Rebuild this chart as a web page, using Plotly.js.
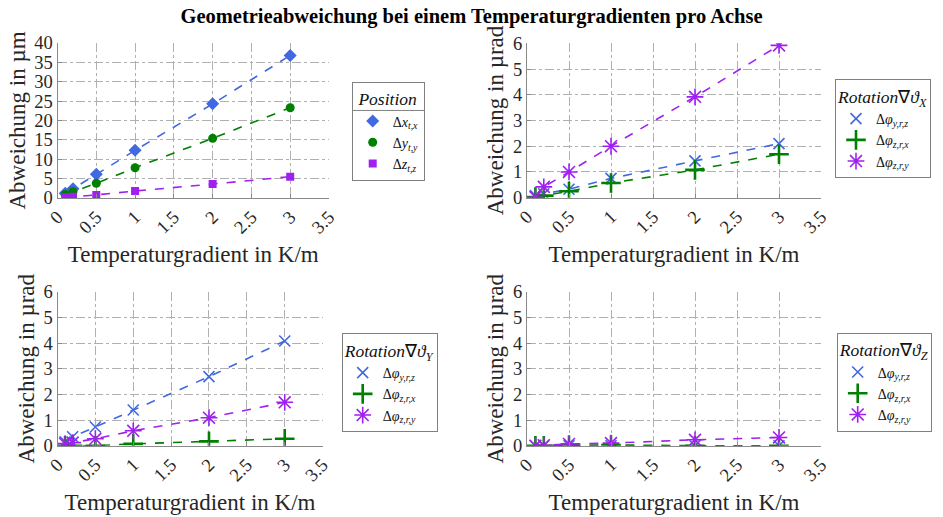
<!DOCTYPE html>
<html>
<head>
<meta charset="utf-8">
<script src="https://cdn.plot.ly/plotly-3.0.1.min.js"></script>
<style>html,body{margin:0;padding:0;background:#fff;}#chart{width:943px;height:517px;}</style>
</head>
<body>
<div id="chart"></div>
<script>
// ---- data ----
const gradient = [0.1, 0.2, 0.5, 1, 2, 3];
const xTickVals = [0, 0.5, 1, 1.5, 2, 2.5, 3, 3.5];
const xTickText = ['0', '0.5', '1', '1.5', '2', '2.5', '3', '3.5'];

// Position (µm)
const pos_dx = [1.2, 2.4, 6.1, 12.3, 24.3, 36.8];
const pos_dy = [0.9, 1.6, 3.8, 7.8, 15.4, 23.3];
const pos_dz = [0.2, 0.3, 0.8, 1.8, 3.6, 5.5];

// Rotation grad X (µrad)
const rx_yrz = [0.08, 0.15, 0.33, 0.75, 1.43, 2.1];
const rx_zrx = [0.03, 0.08, 0.25, 0.57, 1.08, 1.69];
const rx_zry = [0.02, 0.42, 1.0, 2.0, 3.92, 5.92];

// Rotation grad Y (µrad)
const ry_yrz = [0.15, 0.35, 0.73, 1.39, 2.69, 4.08];
const ry_zrx = [0.0, 0.0, 0.0, 0.07, 0.17, 0.27];
const ry_zry = [0.08, 0.12, 0.27, 0.58, 1.09, 1.69];

// Rotation grad Z (µrad)
const rz_yrz = [0.0, 0.0, 0.0, 0.0, 0.0, 0.0];
const rz_zrx = [0.0, 0.0, 0.02, 0.03, 0.0, 0.0];
const rz_zry = [0.0, 0.02, 0.07, 0.1, 0.23, 0.32];

const legendNamesPos = ['Δ<i>x</i><sub><i>t,x</i></sub>', 'Δ<i>y</i><sub><i>t,y</i></sub>', 'Δ<i>z</i><sub><i>t,z</i></sub>'];
const legendNamesRot = ['Δ<i>φ</i><sub><i>y,r,z</i></sub>', 'Δ<i>φ</i><sub><i>z,r,x</i></sub>', 'Δ<i>φ</i><sub><i>z,r,y</i></sub>'];

// ---- styling ----
const W = 943, H = 517;
const px = v => v / W;
const py = v => 1 - v / H;
const FONT = 'Liberation Serif, Times New Roman, serif';
const BLUE = '#4169e1', GREEN = '#008000', PURPLE = '#a020f0';

function series(x, y, color, symbol, size, lw, name, xa, ya, leg) {
  return [
    {x: x, y: y, xaxis: xa, yaxis: ya, mode: 'lines', type: 'scatter',
     line: {color: color, dash: 'dash', width: 1.6}, showlegend: false, hoverinfo: 'skip'},
    {x: x, y: y, xaxis: xa, yaxis: ya, mode: 'markers', type: 'scatter', name: name,
     legend: leg,
     marker: {color: color, symbol: symbol, size: size, line: {color: color, width: lw}}}
  ];
}

let traces = [];
traces = traces.concat(
  series(gradient, pos_dx, BLUE, 'diamond', 10, 0, legendNamesPos[0], 'x', 'y', 'legend'),
  series(gradient, pos_dy, GREEN, 'circle', 9, 0, legendNamesPos[1], 'x', 'y', 'legend'),
  series(gradient, pos_dz, PURPLE, 'square', 8, 0, legendNamesPos[2], 'x', 'y', 'legend')
);
const rotSets = [
  [rx_yrz, rx_zrx, rx_zry, 'x2', 'y2', 'legend2'],
  [ry_yrz, ry_zrx, ry_zry, 'x3', 'y3', 'legend3'],
  [rz_yrz, rz_zrx, rz_zry, 'x4', 'y4', 'legend4']
];
rotSets.forEach(s => {
  traces = traces.concat(
    series(gradient, s[0], BLUE, 'x-thin-open', 11, 1.6, legendNamesRot[0], s[3], s[4], s[5]),
    series(gradient, s[1], GREEN, 'cross-thin-open', 14, 2.6, legendNamesRot[1], s[3], s[4], s[5]),
    series(gradient, s[2], PURPLE, 'asterisk-open', 14, 1.6, legendNamesRot[2], s[3], s[4], s[5])
  );
});

function xAxis(x0, x1, anchor) {
  return {domain: [px(x0), px(x1)], anchor: anchor, range: [0, 3.5],
    tickmode: 'array', tickvals: xTickVals, ticktext: xTickText, tickangle: -45,
    tickfont: {family: FONT, size: 18.5, color: '#262626'},
    showgrid: true, gridcolor: '#b0b0b0', griddash: 'dashdot', gridwidth: 1,
    showline: true, linecolor: '#8a8a8a', linewidth: 1,
    ticks: 'inside', ticklen: 4, tickcolor: '#8a8a8a', zeroline: false,
    title: {text: 'Temperaturgradient in K/m', font: {family: FONT, size: 23, color: '#262626'}, standoff: 9},
    automargin: false, fixedrange: true};
}
function yAxis(y0, y1, anchor, rmax, dtick, unit) {
  return {domain: [py(y1), py(y0)], anchor: anchor, range: [0, rmax],
    tickmode: 'linear', tick0: 0, dtick: dtick,
    tickfont: {family: FONT, size: 18.5, color: '#262626'},
    showgrid: true, gridcolor: '#b0b0b0', griddash: 'dashdot', gridwidth: 1,
    showline: true, linecolor: '#8a8a8a', linewidth: 1,
    ticks: 'inside', ticklen: 4, tickcolor: '#8a8a8a', zeroline: false,
    title: {text: 'Abweichung in ' + unit, font: {family: FONT, size: 23, color: '#262626'}, standoff: 2},
    automargin: false, fixedrange: true};
}
function legendCfg(x, y, title) {
  return {x: px(x), y: py(y), xref: 'paper', yref: 'paper', xanchor: 'left', yanchor: 'top',
    bgcolor: '#ffffff', bordercolor: '#808080', borderwidth: 1,
    font: {family: FONT, size: 14, color: '#111'},
    title: {text: title, side: 'top center', font: {family: FONT, size: 17.5, color: '#111'}},
    tracegroupgap: 0, itemwidth: 30, itemclick: false, itemdoubleclick: false};
}

const layout = {
  width: W, height: H,
  margin: {l: 0, r: 0, t: 0, b: 0},
  paper_bgcolor: '#ffffff', plot_bgcolor: '#ffffff',
  font: {family: FONT, color: '#262626'},
  title: {text: '<b>Geometrieabweichung bei einem Temperaturgradienten pro Achse</b>',
    x: 0.5, xanchor: 'center', xref: 'paper', y: py(16), yanchor: 'middle', yref: 'paper',
    font: {family: FONT, size: 20.5, color: '#000'}},
  xaxis: xAxis(57.5, 329, 'y'),
  yaxis: yAxis(43, 198, 'x', 40, 5, 'µm'),
  xaxis2: xAxis(527, 821, 'y2'),
  yaxis2: yAxis(43.3, 197.7, 'x2', 6, 1, 'µrad'),
  xaxis3: xAxis(57.5, 322.6, 'y3'),
  yaxis3: yAxis(291.7, 445.7, 'x3', 6, 1, 'µrad'),
  xaxis4: xAxis(527, 821, 'y4'),
  yaxis4: yAxis(291.7, 445.7, 'x4', 6, 1, 'µrad'),
  legend: legendCfg(351.7, 81.7, '<i>Position</i>'),
  legend2: legendCfg(835, 79.3, '<i>Rotation</i>∇<i>ϑ</i><sub><i>X</i></sub>'),
  legend3: legendCfg(341.7, 333.3, '<i>Rotation</i>∇<i>ϑ</i><sub><i>Y</i></sub>'),
  legend4: legendCfg(836.7, 332.7, '<i>Rotation</i>∇<i>ϑ</i><sub><i>Z</i></sub>'),
  showlegend: true
};

// separator line under each legend title (MATLAB legend title style)
function addLegendSeparators() {
  const NS = 'http://www.w3.org/2000/svg';
  ['legend', 'legend2', 'legend3', 'legend4'].forEach(id => {
    const g = document.querySelector('g.' + id);
    if (!g) return;
    const bg = g.querySelector('rect.bg');
    const t = g.querySelector('text.legendtitletext');
    if (!bg || !t) return;
    const bx = parseFloat(bg.getAttribute('x') || 0);
    const bw = parseFloat(bg.getAttribute('width') || 0);
    const tb = t.getBBox();
    let ty = tb.y + tb.height + 1;
    let node = t.parentNode, off = 0;
    while (node && node !== g) {
      const tr = node.getAttribute && node.getAttribute('transform');
      if (tr) { const m = tr.match(/translate\(\s*([-\d.]+)[ ,]+([-\d.]+)/); if (m) off += parseFloat(m[2]); }
      node = node.parentNode;
    }
    ty += off;
    const line = document.createElementNS(NS, 'line');
    line.setAttribute('x1', bx); line.setAttribute('x2', bx + bw);
    line.setAttribute('y1', ty); line.setAttribute('y2', ty);
    line.setAttribute('stroke', '#808080'); line.setAttribute('stroke-width', '1');
    g.appendChild(line);
  });
}

Plotly.newPlot('chart', traces, layout, {displayModeBar: false, staticPlot: true}).then(addLegendSeparators);
</script>
</body>
</html>
